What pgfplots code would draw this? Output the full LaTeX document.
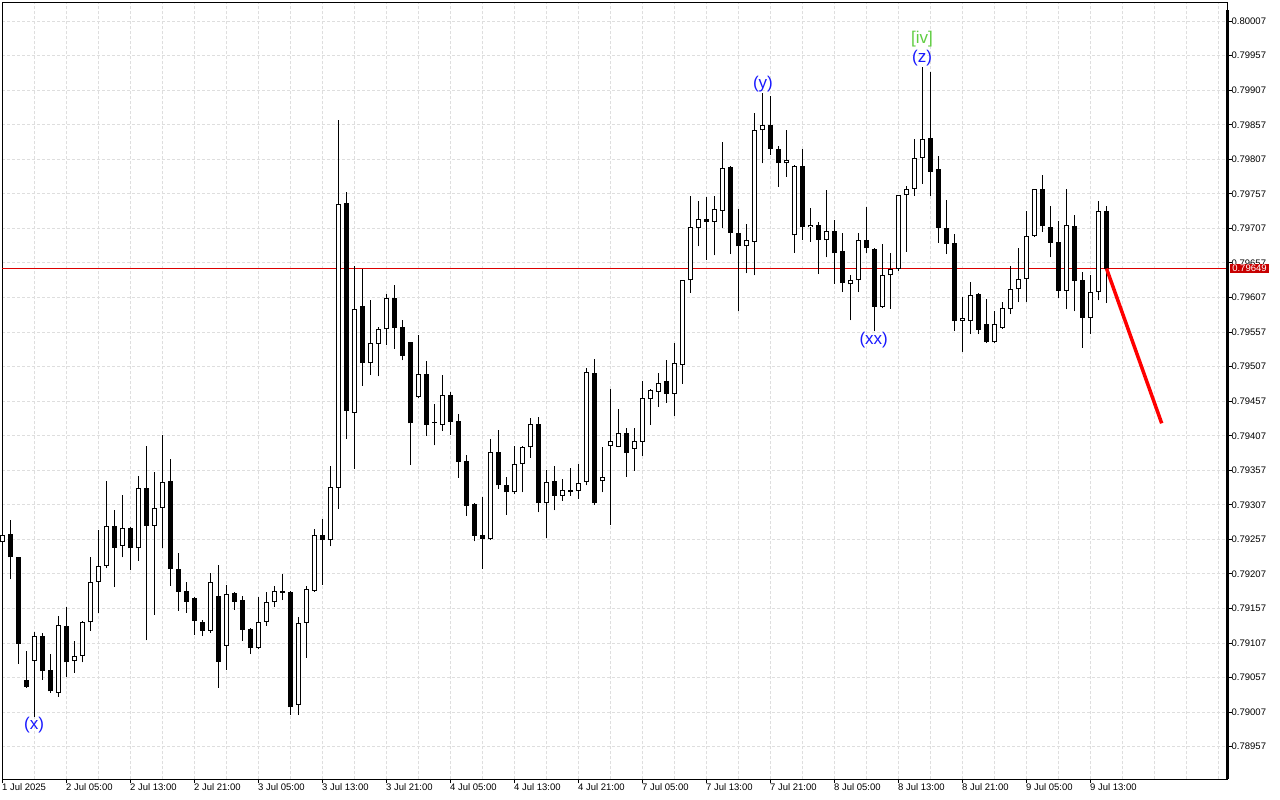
\documentclass[border=0pt]{standalone}
\usepackage{pgfplots}
\pgfplotsset{compat=1.18}
\usepackage{pgfplotstable}
\usepackage{fontspec}
\setmainfont{Liberation Sans}
\definecolor{gridc}{RGB}{222,222,222}
\definecolor{pline}{RGB}{220,0,0}
\definecolor{pbox}{RGB}{200,0,0}
\definecolor{wave}{RGB}{25,25,255}
\definecolor{wgreen}{RGB}{95,205,65}

\pgfplotstableread{
i o h l c
0 0.79253 0.79273 0.79245 0.79263
4 0.79081 0.79123 0.79000 0.79117
7 0.79035 0.79146 0.79029 0.79133
9 0.79081 0.79110 0.79064 0.79088
10 0.79088 0.79139 0.79079 0.79137
11 0.79137 0.79232 0.79125 0.79196
12 0.79196 0.79271 0.79151 0.79218
13 0.79219 0.79342 0.79215 0.79276
15 0.79248 0.79321 0.79231 0.79274
17 0.79244 0.79349 0.79226 0.79331
19 0.79277 0.79355 0.79148 0.79302
20 0.79303 0.79408 0.79244 0.79340
26 0.79125 0.79209 0.79122 0.79195
28 0.79103 0.79191 0.79068 0.79178
32 0.79100 0.79174 0.79098 0.79138
33 0.79138 0.79181 0.79132 0.79166
34 0.79166 0.79190 0.79159 0.79183
37 0.79018 0.79145 0.79003 0.79136
38 0.79136 0.79190 0.79086 0.79185
39 0.79183 0.79272 0.79181 0.79264
41 0.79256 0.79363 0.79247 0.79333
42 0.79332 0.79864 0.79301 0.79742
44 0.79440 0.79652 0.79359 0.79591
46 0.79512 0.79603 0.79495 0.79541
47 0.79540 0.79565 0.79493 0.79562
48 0.79561 0.79612 0.79538 0.79606
52 0.79463 0.79553 0.79462 0.79497
55 0.79423 0.79495 0.79414 0.79466
61 0.79258 0.79402 0.79256 0.79384
64 0.79325 0.79392 0.79322 0.79366
65 0.79366 0.79392 0.79325 0.79390
66 0.79390 0.79432 0.79375 0.79424
68 0.79309 0.79357 0.79259 0.79340
70 0.79320 0.79344 0.79313 0.79329
72 0.79327 0.79366 0.79316 0.79338
73 0.79340 0.79505 0.79335 0.79499
75 0.79341 0.79390 0.79325 0.79348
76 0.79392 0.79475 0.79278 0.79399
77 0.79391 0.79446 0.79390 0.79411
79 0.79388 0.79418 0.79356 0.79400
80 0.79398 0.79486 0.79378 0.79461
81 0.79460 0.79474 0.79423 0.79473
82 0.79471 0.79498 0.79449 0.79484
84 0.79468 0.79541 0.79436 0.79512
85 0.79510 0.79633 0.79482 0.79632
86 0.79632 0.79754 0.79614 0.79709
87 0.79707 0.79747 0.79681 0.79720
89 0.79717 0.79754 0.79668 0.79735
90 0.79732 0.79832 0.79708 0.79795
93 0.79681 0.79713 0.79642 0.79690
94 0.79688 0.79874 0.79639 0.79850
95 0.79849 0.79903 0.79801 0.79856
98 0.79801 0.79850 0.79782 0.79806
99 0.79697 0.79799 0.79672 0.79798
101 0.79709 0.79736 0.79688 0.79712
103 0.79690 0.79762 0.79665 0.79704
106 0.79626 0.79639 0.79574 0.79632
107 0.79632 0.79701 0.79615 0.79690
110 0.79594 0.79684 0.79592 0.79639
111 0.79639 0.79671 0.79591 0.79649
112 0.79648 0.79756 0.79646 0.79755
113 0.79755 0.79769 0.79673 0.79764
114 0.79764 0.79837 0.79754 0.79809
115 0.79809 0.79941 0.79772 0.79836
120 0.79573 0.79608 0.79528 0.79577
121 0.79573 0.79629 0.79554 0.79610
124 0.79542 0.79588 0.79541 0.79569
125 0.79563 0.79601 0.79562 0.79592
126 0.79591 0.79652 0.79583 0.79619
127 0.79619 0.79679 0.79600 0.79634
128 0.79634 0.79732 0.79600 0.79696
129 0.79696 0.79764 0.79695 0.79764
133 0.79617 0.79764 0.79590 0.79712
136 0.79578 0.79639 0.79554 0.79615
137 0.79615 0.79746 0.79603 0.79732
}\bull

\pgfplotstableread{
i o h l c
1 0.79265 0.79285 0.79199 0.79231
2 0.79231 0.79231 0.79077 0.79106
3 0.79053 0.79095 0.79042 0.79044
5 0.79117 0.79122 0.79054 0.79066
6 0.79068 0.79091 0.79035 0.79037
8 0.79132 0.79159 0.79058 0.79079
14 0.79276 0.79300 0.79188 0.79245
16 0.79273 0.79275 0.79212 0.79244
18 0.79331 0.79392 0.79111 0.79277
21 0.79341 0.79374 0.79190 0.79214
22 0.79214 0.79237 0.79154 0.79181
23 0.79183 0.79196 0.79151 0.79167
24 0.79172 0.79174 0.79119 0.79139
25 0.79138 0.79140 0.79117 0.79125
27 0.79175 0.79220 0.79042 0.79080
29 0.79179 0.79181 0.79155 0.79167
30 0.79170 0.79175 0.79110 0.79126
31 0.79127 0.79129 0.79091 0.79100
35 0.79183 0.79207 0.79169 0.79180
36 0.79181 0.79182 0.79003 0.79014
40 0.79264 0.79287 0.79191 0.79256
43 0.79744 0.79760 0.79402 0.79443
45 0.79595 0.79649 0.79479 0.79512
49 0.79606 0.79625 0.79533 0.79563
50 0.79565 0.79574 0.79516 0.79523
51 0.79542 0.79543 0.79365 0.79425
53 0.79497 0.79515 0.79407 0.79423
54 0.79427 0.79453 0.79393 0.79426
56 0.79466 0.79470 0.79408 0.79427
57 0.79428 0.79438 0.79346 0.79369
58 0.79370 0.79379 0.79291 0.79306
59 0.79308 0.79310 0.79254 0.79262
60 0.79263 0.79318 0.79214 0.79258
62 0.79384 0.79415 0.79330 0.79335
63 0.79336 0.79347 0.79293 0.79325
67 0.79424 0.79434 0.79296 0.79309
69 0.79341 0.79363 0.79299 0.79320
71 0.79328 0.79361 0.79320 0.79326
74 0.79498 0.79518 0.79307 0.79309
78 0.79411 0.79418 0.79348 0.79382
83 0.79486 0.79517 0.79455 0.79468
88 0.79720 0.79753 0.79662 0.79717
91 0.79796 0.79797 0.79670 0.79701
92 0.79701 0.79735 0.79587 0.79681
96 0.79856 0.79899 0.79814 0.79822
97 0.79822 0.79827 0.79767 0.79801
100 0.79798 0.79822 0.79690 0.79709
102 0.79712 0.79716 0.79641 0.79690
104 0.79704 0.79719 0.79627 0.79671
105 0.79674 0.79700 0.79615 0.79628
108 0.79690 0.79738 0.79672 0.79678
109 0.79677 0.79678 0.79558 0.79594
116 0.79838 0.79934 0.79754 0.79789
117 0.79793 0.79812 0.79686 0.79708
118 0.79707 0.79748 0.79670 0.79685
119 0.79686 0.79699 0.79559 0.79573
122 0.79612 0.79613 0.79554 0.79560
123 0.79569 0.79605 0.79541 0.79542
130 0.79764 0.79784 0.79702 0.79710
131 0.79709 0.79739 0.79665 0.79686
132 0.79687 0.79718 0.79606 0.79617
134 0.79710 0.79727 0.79587 0.79631
135 0.79632 0.79644 0.79534 0.79578
138 0.79732 0.79740 0.79599 0.79649
}\bear

\newcommand{\tickfont}{\fontsize{9.5bp}{11bp}\selectfont}
\newcommand{\wavefont}{\fontsize{17bp}{20bp}\selectfont}

\begin{document}
\begin{tikzpicture}
\useasboundingbox (0,0) rectangle (1280bp,800bp);
\fill[white] (0,0) rectangle (1280bp,800bp);
\begin{axis}[
  at={(2.3bp,20.7bp)}, anchor=south west,
  scale only axis, width=1225.2bp, height=777bp,
  xmin=-0.025, xmax=153.125, ymin=0.789098, ymax=0.800343,
  clip=false,
  axis line style={black, line width=1bp},
  xtick={0,8,...,136},
  xticklabels={1 Jul 2025,2 Jul 05:00,2 Jul 13:00,2 Jul 21:00,3 Jul 05:00,3 Jul 13:00,3 Jul 21:00,4 Jul 05:00,4 Jul 13:00,4 Jul 21:00,7 Jul 05:00,7 Jul 13:00,7 Jul 21:00,8 Jul 05:00,8 Jul 13:00,8 Jul 21:00,9 Jul 05:00,9 Jul 13:00},
  minor xtick={0,4,...,152},
  xminorgrids=true, xmajorgrids=false, ymajorgrids=true,
  major grid style={gridc, dash pattern=on 3bp off 2bp, line width=1bp},
  minor grid style={gridc, dash pattern=on 3bp off 2bp, line width=1bp},
  ytick={0.78957,0.79007,0.79057,0.79107,0.79157,0.79207,0.79257,0.79307,0.79357,0.79407,0.79457,0.79507,0.79557,0.79607,0.79657,0.79707,0.79757,0.79807,0.79857,0.79907,0.79957,0.80007},
  yticklabels={0.78957,0.79007,0.79057,0.79107,0.79157,0.79207,0.79257,0.79307,0.79357,0.79407,0.79457,0.79507,0.79557,0.79607,0.79657,0.79707,0.79757,0.79807,0.79857,0.79907,0.79957,0.80007},
  scaled y ticks=false,
  xtick pos=bottom, ytick pos=right, yticklabel pos=right,
  tick align=outside, major tick length=4bp, minor tick length=0pt,
  tick style={black, line width=1bp},
  xticklabel style={font=\tickfont, anchor=north west, inner sep=0pt, xshift=-0.6bp},
  yticklabel style={font=\tickfont, anchor=west, inner sep=0pt},
]
% current price line
\addplot[pline, line width=1bp, forget plot] coordinates {(-0.025,0.79649) (153.125,0.79649)};
% wicks
\addplot[draw=none, mark=none, forget plot,
  error bars/.cd, y dir=plus, y explicit, error mark=none,
  error bar style={draw=black, line width=1bp, line cap=butt}]
  table[x=i, y=l, y error plus expr=\thisrow{h}-\thisrow{l}] {\bull};
\addplot[draw=none, mark=none, forget plot,
  error bars/.cd, y dir=plus, y explicit, error mark=none,
  error bar style={draw=black, line width=1bp, line cap=butt}]
  table[x=i, y=l, y error plus expr=\thisrow{h}-\thisrow{l}] {\bear};
% bodies
\addplot[draw=none, mark=none, forget plot,
  error bars/.cd, y dir=plus, y explicit, error mark=none,
  error bar style={draw=black, line width=5bp, line cap=butt}]
  table[x=i, y=o, y error plus expr=\thisrow{c}-\thisrow{o}] {\bull};
\addplot[draw=none, mark=none, forget plot,
  error bars/.cd, y dir=plus, y explicit, error mark=none,
  error bar style={draw=black, line width=5bp, line cap=butt}]
  table[x=i, y=c, y error plus expr=\thisrow{o}-\thisrow{c}] {\bear};
\addplot[draw=none, mark=none, forget plot,
  error bars/.cd, y dir=plus, y explicit, error mark=none,
  error bar style={draw=white, line width=3bp, line cap=butt}]
  table[x=i, y expr=\thisrow{o}+0.0000145, y error plus expr=\thisrow{c}-\thisrow{o}-0.000029] {\bull};
% forecast line
\addplot[red, line width=3.5bp, forget plot] coordinates {(138,0.79649) (144.9,0.79425)};
% wave labels
\node[text=wave, font=\wavefont, inner sep=0pt] at (axis cs:3.95,0.789884) {(x)};
\node[text=wave, font=\wavefont, inner sep=0pt] at (axis cs:95.06,0.799160) {(y)};
\node[text=wave, font=\wavefont, inner sep=0pt] at (axis cs:108.9,0.795456) {(xx)};
\node[text=wave, font=\wavefont, inner sep=0pt] at (axis cs:114.95,0.799537) {(z)};
\node[text=wgreen, font=\wavefont, inner sep=0pt] at (axis cs:114.95,0.799812) {[iv]};
% thick right border
\draw[black, line width=2.5bp] (rel axis cs:1,0) -- (rel axis cs:1,0.99);
% price box
\node[fill=pbox, text=white, font=\tickfont, anchor=west, inner xsep=2.3bp, inner ysep=1.6bp, xshift=2.3bp] at (axis cs:153.125,0.79649) {0.79649};
\end{axis}
\end{tikzpicture}
\end{document}
